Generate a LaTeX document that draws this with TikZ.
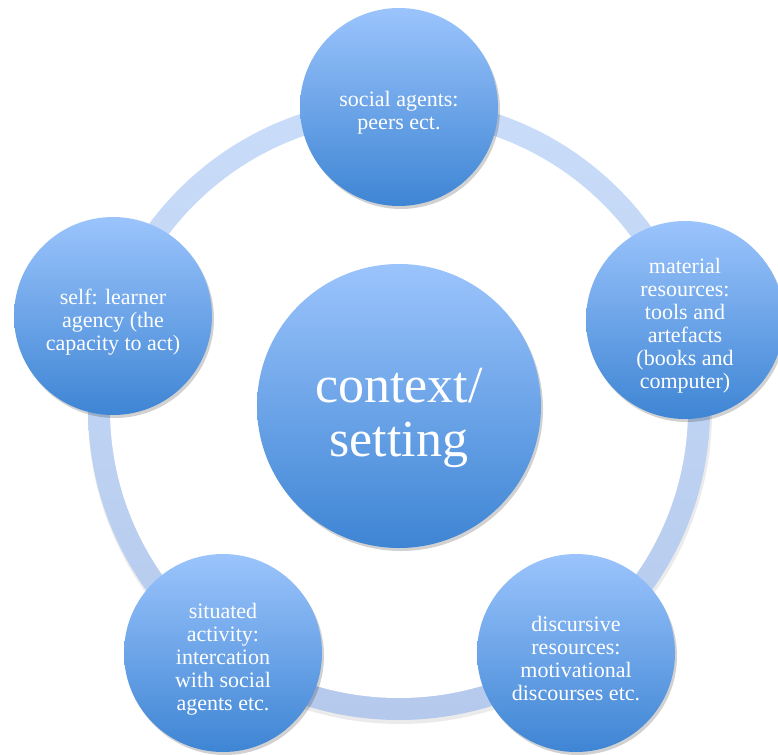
\documentclass[tikz,border=0pt]{standalone}
\usepackage{fontspec}
\setmainfont{Liberation Serif}
\usetikzlibrary{shadows,calc}
\definecolor{ringtop}{RGB}{201,221,250}
\definecolor{ringbot}{RGB}{180,201,236}
\definecolor{circtop}{RGB}{155,196,252}
\definecolor{circbot}{RGB}{62,133,212}
\newcommand{\dnA}{\rule{0pt}{27pt}}
\newcommand{\dnB}{\rule{0pt}{58pt}}
\tikzset{
  bubble/.style={circle, inner sep=0pt, minimum size=198pt, align=center,
    text=white, font=\fontsize{22}{23}\selectfont,
    top color=circtop, bottom color=circbot, draw=none,
    drop shadow={opacity=0.18, shadow xshift=2pt, shadow yshift=-3pt, fill=black}},
  hub/.style={bubble, minimum size=284pt, font=\fontsize{52}{54}\selectfont}
}
\begin{document}
\begin{tikzpicture}[x=1pt,y=-1pt]
\useasboundingbox (0,0) rectangle (778,754);
\coordinate (c) at (399,409);
\coordinate (cs) at (400,412);
% ring shadow
\fill[black, opacity=0.08] (cs) circle (312pt);
\fill[white] (cs) circle (288pt);
% ring
\shade[top color=ringtop, bottom color=ringbot] (c) circle (311pt);
\fill[white] (c) circle (289pt);
% nodes
\node[hub] (ctx) at (399,406) {\dnB context/\\setting};
\node[bubble] (soc) at (399,107) {\dnA social agents:\\peers ect.};
\node[bubble] (mat) at (685,320) {\dnA material\\resources:\\tools and\\artefacts\\(books and\\computer)};
\node[bubble] (dis) at (576,653) {\dnA discursive\\resources:\\motivational\\discourses etc.};
\node[bubble] (sit) at (223,653) {\dnA situated\\activity:\\intercation\\with social\\agents etc.};
\node[bubble] (self) at (113,316) {\dnA self: learner\\agency (the\\capacity to act)};
\end{tikzpicture}
\end{document}
